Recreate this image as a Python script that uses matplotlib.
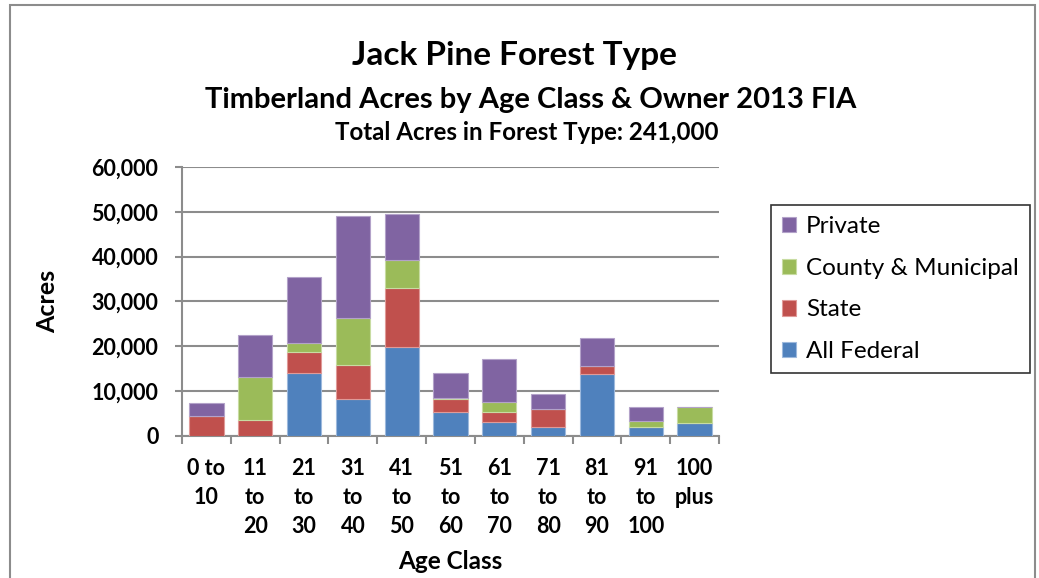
import matplotlib
matplotlib.use("Agg")
import matplotlib.pyplot as plt
import numpy as np
from matplotlib.patches import Rectangle
from matplotlib.ticker import FuncFormatter

plt.rcParams['font.family'] = ['Lato', 'DejaVu Sans']

# age classes and acres by owner group
age_classes = ["0 to\n10", "11\nto\n20", "21\nto\n30", "31\nto\n40", "41\nto\n50",
               "51\nto\n60", "61\nto\n70", "71\nto\n80", "81\nto\n90", "91\nto\n100", "100\nplus"]
federal = [0, 0, 13950, 8310, 19810, 5270, 3040, 2080, 13720, 2000, 2820]
state = [4450, 3640, 4890, 7420, 13200, 2960, 2230, 4000, 1780, 0, 0]
county = [0, 9490, 1930, 10680, 6310, 300, 2300, 0, 0, 1410, 3710]
private = [2970, 9420, 14690, 22630, 10160, 5490, 9570, 3190, 6460, 2970, 0]

owners = ["All Federal", "State", "County & Municipal", "Private"]
colors = ["#4F81BD", "#C0504D", "#9BBB59", "#8064A2"]
edges = ["#9DB9DD", "#E09A98", "#C8DCA2", "#B3A2C9"]

fig = plt.figure(figsize=(10.39, 5.78), dpi=100)
fig.patches.append(Rectangle((0.0096, -0.1), 0.9865, 1.092, transform=fig.transFigure,
                             fill=False, edgecolor="#8c8c8c", linewidth=1.5))

ax = fig.add_axes([0.1752, 0.2457, 0.5168, 0.4654])
x = np.arange(len(age_classes))
bottom = np.zeros(len(age_classes))
handles = []
for vals, col, ec, name in zip([federal, state, county, private], colors, edges, owners):
    b = ax.bar(x, vals, width=0.7, bottom=bottom, color=col, edgecolor=ec,
               linewidth=0.8, label=name, zorder=3)
    handles.append(b)
    bottom += np.array(vals)

ax.set_xlim(-0.5, len(age_classes) - 0.5)
ax.set_ylim(0, 60000)
ax.set_yticks(np.arange(0, 60001, 10000))
ax.yaxis.set_major_formatter(FuncFormatter(lambda v, p: f"{int(v):,}"))
ax.grid(axis="y", color="#8c8c8c", linewidth=1.5, zorder=0)

ax.set_xticks(x)
ax.set_xticklabels(age_classes, fontsize=15.5, fontweight="bold", linespacing=1.45)
ax.set_xticks(np.arange(-0.5, len(age_classes)), minor=True)
ax.tick_params(axis="x", which="major", length=0, pad=16)
ax.tick_params(axis="x", which="minor", length=6, width=1.5, color="#8c8c8c", direction="out")
ax.tick_params(axis="y", length=5, width=1.5, color="#8c8c8c", labelsize=15.5, pad=12)
for lab in ax.get_yticklabels():
    lab.set_fontweight("bold")

for side in ["top", "right"]:
    ax.spines[side].set_visible(False)
for side in ["left", "bottom"]:
    ax.spines[side].set_color("#8c8c8c")
    ax.spines[side].set_linewidth(1.5)

ax.set_ylabel("Acres", fontsize=18, fontweight="bold", labelpad=23)
ax.set_xlabel("Age Class", fontsize=17.5, fontweight="bold", labelpad=10)

fig.text(0.4955, 0.904, "Jack Pine Forest Type", ha="center", va="center",
         fontsize=24, fontweight="bold")
fig.text(0.511, 0.827, "Timberland Acres by Age Class & Owner 2013 FIA", ha="center",
         va="center", fontsize=21, fontweight="bold")
fig.text(0.507, 0.770, "Total Acres in Forest Type: 241,000", ha="center", va="center",
         fontsize=17.4, fontweight="bold")

leg = fig.legend(handles[::-1], owners[::-1], loc="upper left",
                 bbox_to_anchor=(0.742, 0.645), borderaxespad=0, fontsize=17.5,
                 frameon=True, fancybox=False, edgecolor="black", handlelength=0.6,
                 handleheight=0.6, labelspacing=0.85, borderpad=0.45, handletextpad=0.4)
leg.get_frame().set_linewidth(1.2)

plt.savefig("out.png", dpi=100)
